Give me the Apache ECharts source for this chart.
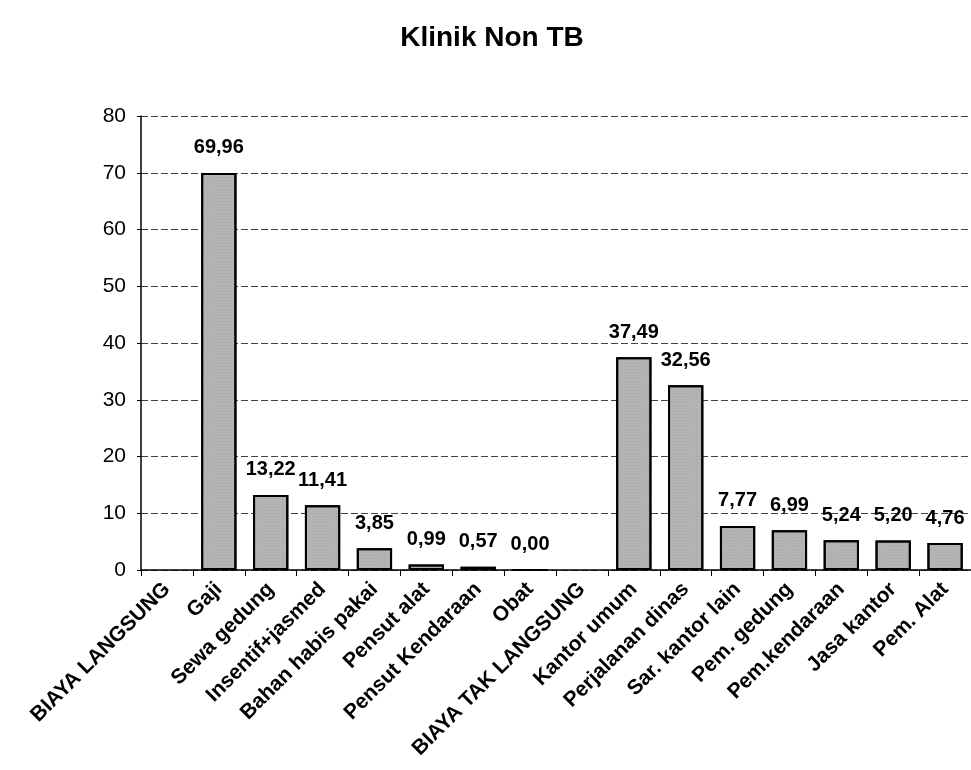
<!DOCTYPE html>
<html>
<head>
<meta charset="utf-8">
<script src="https://cdn.jsdelivr.net/npm/echarts@6/dist/echarts.min.js"></script>
<style>
  html, body { margin: 0; padding: 0; background: #fff; }
  #chart { width: 971px; height: 770px; }
</style>
</head>
<body>
<div id="chart"></div>
<script>
// kategori biaya
const categories = [
  'BIAYA LANGSUNG', 'Gaji', 'Sewa gedung', 'Insentif+jasmed', 'Bahan habis pakai',
  'Pensut alat', 'Pensut Kendaraan', 'Obat', 'BIAYA TAK LANGSUNG', 'Kantor umum',
  'Perjalanan dinas', 'Sar. kantor lain', 'Pem. gedung', 'Pem.kendaraan', 'Jasa kantor', 'Pem. Alat'
];
// nilai (%), '-' = judul kelompok tanpa batang
const values = ['-', 69.96, 13.22, 11.41, 3.85, 0.99, 0.57, 0.00, '-', 37.49, 32.56, 7.77, 6.99, 5.24, 5.20, 4.76];
const yTicks = { min: 0, max: 80, interval: 10 };

const font = '"Liberation Sans", Arial, sans-serif';
const chart = echarts.init(document.getElementById('chart'));

chart.setOption({
  backgroundColor: '#fff',
  animation: false,
  title: {
    text: 'Klinik Non TB',
    left: 487,
    textAlign: 'center',
    top: 19,
    textStyle: { fontFamily: font, fontSize: 28, fontWeight: 'bold', color: '#000' }
  },
  grid: { left: 141, right: 0, top: 116, bottom: 200 },
  xAxis: {
    type: 'category',
    data: categories,
    axisLine: { lineStyle: { color: '#000', width: 1.5 } },
    axisTick: { show: true, length: 6, lineStyle: { color: '#000' } },
    axisLabel: {
      rotate: 45,
      interval: 0,
      margin: 16,
      fontFamily: font,
      fontSize: 21,
      fontWeight: 'bold',
      color: '#000'
    }
  },
  yAxis: {
    type: 'value',
    min: yTicks.min,
    max: yTicks.max,
    interval: yTicks.interval,
    axisLine: { show: true, lineStyle: { color: '#000', width: 1.5 } },
    axisTick: { show: true, length: 4, lineStyle: { color: '#000' } },
    axisLabel: { fontFamily: font, fontSize: 21, color: '#000', margin: 15 },
    splitLine: { lineStyle: { color: '#444', type: [7, 3], width: 1 } }
  },
  series: [{
    type: 'bar',
    data: values,
    barWidth: '68%',
    itemStyle: {
      color: '#b4b4b4',
      borderColor: '#000',
      borderWidth: 2,
      decal: {
        symbol: 'rect',
        symbolSize: 0.5,
        dashArrayX: [1, 2],
        dashArrayY: [1, 2],
        color: 'rgba(40,40,40,0.4)',
        rotation: 0
      }
    },
    label: {
      show: true,
      position: 'top',
      distance: 15,
      fontFamily: font,
      fontSize: 20,
      fontWeight: 'bold',
      color: '#000',
      formatter: p => (typeof p.value === 'number' ? p.value.toFixed(2).replace('.', ',') : '')
    }
  }]
});
</script>
</body>
</html>
